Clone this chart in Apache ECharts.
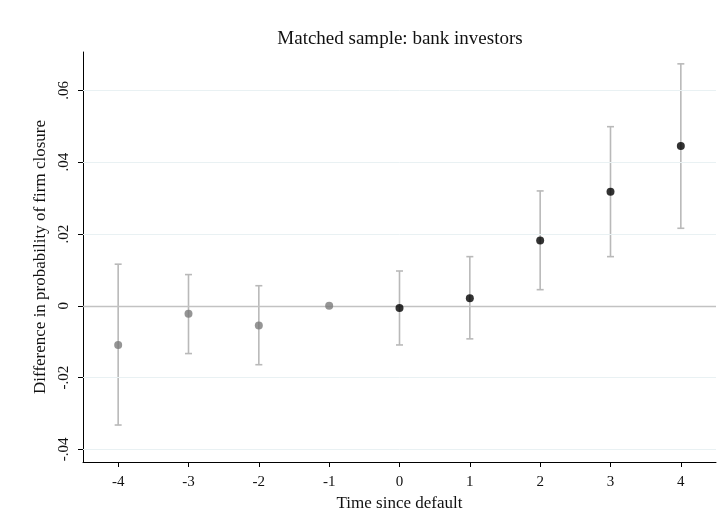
<!DOCTYPE html>
<html><head><meta charset="utf-8">
<script src="https://cdn.jsdelivr.net/npm/echarts@6/dist/echarts.min.js"></script>
<style>html,body{margin:0;padding:0;background:#fff}#c{width:719px;height:510px}</style>
</head><body><div id="c"></div>
<script>
const periods = [-4, -3, -2, -1, 0, 1, 2, 3, 4];
const estimates = [-0.0109, -0.0022, -0.0055, 0, -0.0006, 0.0021, 0.0182, 0.0318, 0.0445];
const ciUpper = [0.0116, 0.0087, 0.0056, null, 0.0097, 0.0137, 0.0320, 0.0499, 0.0674];
const ciLower = [-0.0332, -0.0133, -0.0164, null, -0.0109, -0.0092, 0.0045, 0.0137, 0.0216];
const yTicks = [-0.04, -0.02, 0, 0.02, 0.04, 0.06];
const yTickLabels = ['-.04', '-.02', '0', '.02', '.04', '.06'];
const xTicks = [-4, -3, -2, -1, 0, 1, 2, 3, 4];
const xTickLabels = ['-4', '-3', '-2', '-1', '0', '1', '2', '3', '4'];
const titleText = 'Matched sample: bank investors';

const FONT = 'Liberation Serif';
const pre = [], post = [], bars = [];
periods.forEach((p, i) => {
  (p < 0 ? pre : post).push([p, estimates[i]]);
  if (ciUpper[i] !== null) bars.push([p, ciLower[i], ciUpper[i]]);
});

const chart = echarts.init(document.getElementById('c'));
chart.setOption({
  animation: false,
  backgroundColor: '#fff',
  graphic: [{
    type: 'text', x: 400, y: 39,
    style: { text: titleText, fontFamily: FONT, fontSize: 19, fill: '#111', align: 'center', verticalAlign: 'middle' }
  }],
  grid: { left: 83, right: 3, top: 52, bottom: 48, outerBoundsMode: 'none', containLabel: false },
  xAxis: {
    type: 'value', min: -4.5, max: 4.5,
    name: 'Time since default', nameLocation: 'middle', nameGap: 30,
    nameTextStyle: { fontFamily: FONT, fontSize: 17, color: '#111' },
    axisLine: { show: true, onZero: false, lineStyle: { color: '#000', width: 1 } },
    axisTick: { show: true, length: 5, lineStyle: { color: '#000' }, customValues: xTicks },
    axisLabel: { fontFamily: FONT, fontSize: 15, color: '#111', margin: 13, customValues: xTicks,
      formatter: v => xTickLabels[xTicks.indexOf(v)] },
    splitLine: { show: false }
  },
  yAxis: {
    type: 'value', min: -0.0435, max: 0.0707,
    name: 'Difference in probability of firm closure', nameLocation: 'middle', nameGap: 34,
    nameTextStyle: { fontFamily: FONT, fontSize: 17, color: '#111' },
    axisLine: { show: true, onZero: false, lineStyle: { color: '#000', width: 1 } },
    axisTick: { show: true, length: 5, lineStyle: { color: '#000' }, customValues: yTicks },
    axisLabel: { fontFamily: FONT, fontSize: 15, color: '#111', rotate: 90, margin: 11, customValues: yTicks,
      formatter: v => { let k = yTicks.findIndex(t => Math.abs(t - v) < 1e-9); return k >= 0 ? yTickLabels[k] : ''; } },
    splitLine: { show: false }
  },
  series: [
    {
      type: 'line', data: [], silent: true,
      markLine: {
        silent: true, symbol: 'none', label: { show: false },
        data: yTicks.filter(t => t !== 0).map(t => ({ yAxis: t, lineStyle: { color: '#e9f1f3', width: 1, type: 'solid' } }))
          .concat([{ yAxis: 0, lineStyle: { color: '#c2c2c2', width: 1.3, type: 'solid' } }])
      }
    },
    {
      type: 'custom', data: bars, z: 3,
      renderItem: (params, api) => {
        const x = api.value(0);
        const lo = api.coord([x, api.value(1)]);
        const hi = api.coord([x, api.value(2)]);
        const w = 3.5;
        const st = { stroke: '#b9b9b9', lineWidth: 1.6 };
        return { type: 'group', children: [
          { type: 'line', shape: { x1: lo[0], y1: lo[1], x2: hi[0], y2: hi[1] }, style: st },
          { type: 'line', shape: { x1: lo[0] - w, y1: lo[1], x2: lo[0] + w, y2: lo[1] }, style: st },
          { type: 'line', shape: { x1: hi[0] - w, y1: hi[1], x2: hi[0] + w, y2: hi[1] }, style: st }
        ] };
      }
    },
    { type: 'scatter', data: pre, symbolSize: 8, z: 5, itemStyle: { color: '#7a7a7a' } },
    { type: 'scatter', data: post, symbolSize: 8, z: 5, itemStyle: { color: '#000' } }
  ]
});
</script></body></html>
